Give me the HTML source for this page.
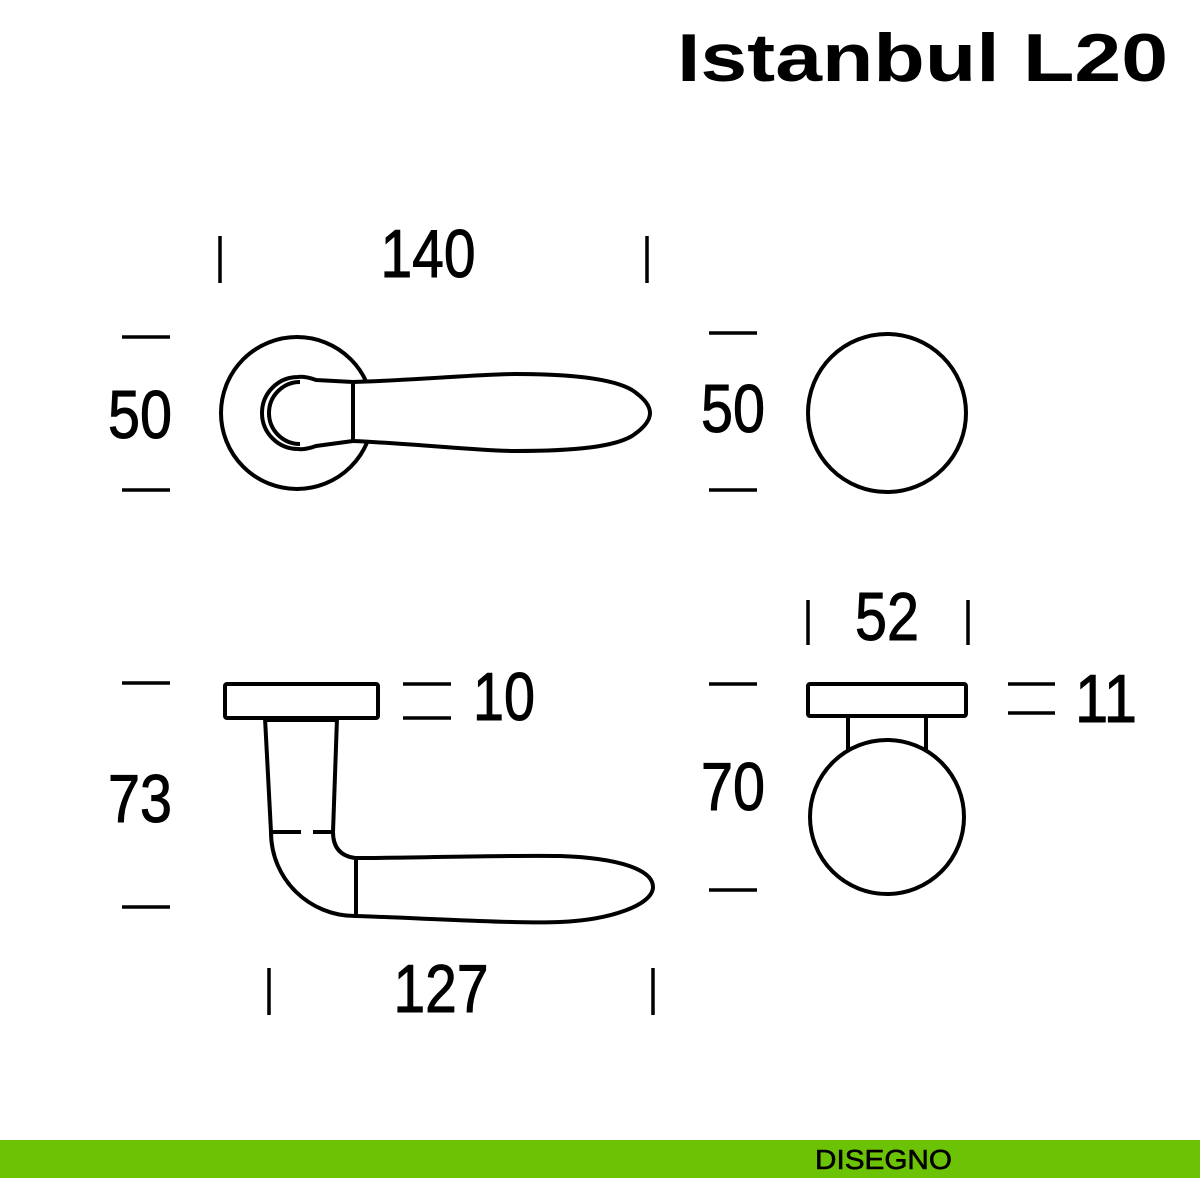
<!DOCTYPE html>
<html><head><meta charset="utf-8"><style>
html,body{margin:0;padding:0;background:#fff;width:1200px;height:1200px;overflow:hidden}
</style></head><body>
<svg width="1200" height="1200" viewBox="0 0 1200 1200" xmlns="http://www.w3.org/2000/svg">
<text x="677" y="81" font-family="Liberation Sans, sans-serif" font-weight="bold" font-size="68" textLength="491" lengthAdjust="spacingAndGlyphs" fill="#000">Istanbul L20</text>

<g stroke="#000" stroke-width="3.5" fill="none">
<line x1="220" y1="236" x2="220" y2="283"/><line x1="647" y1="236" x2="647" y2="283"/>
<line x1="122" y1="337" x2="170" y2="337"/><line x1="122" y1="490" x2="170" y2="490"/>
<line x1="709" y1="333" x2="757" y2="333"/><line x1="709" y1="490" x2="757" y2="490"/>
<line x1="122" y1="683" x2="170" y2="683"/><line x1="122" y1="907" x2="170" y2="907"/>
<line x1="403" y1="684" x2="451" y2="684"/><line x1="403" y1="718" x2="451" y2="718"/>
<line x1="709" y1="684" x2="757" y2="684"/><line x1="709" y1="890" x2="757" y2="890"/>
<line x1="808" y1="600" x2="808" y2="645"/><line x1="968" y1="600" x2="968" y2="645"/>
<line x1="1008" y1="684" x2="1055" y2="684"/><line x1="1008" y1="713" x2="1055" y2="713"/>
<line x1="269" y1="968" x2="269" y2="1015"/><line x1="653" y1="968" x2="653" y2="1015"/>
</g>

<g stroke="#000" stroke-width="4" fill="#fff" stroke-linejoin="round">
<circle cx="297" cy="413" r="76"/>
<path d="M353 382 C420 380 480 374 515 374 C580 374 615 380 632 390 Q650 402 650 413 Q650 424 632 436 C615 446 580 451 515 451 C480 451 420 444 353 441 Z"/>
<path d="M316 380 Q305 376 298 377 A36 36 0 0 0 298 449 Q305 450 316 446 L353 441 L353 382 Z"/>
<path d="M300 382 A31 31 0 0 0 300 444" stroke-width="4" fill="none"/>
<circle cx="887" cy="413" r="79"/>

<path d="M265 718 L271 832 C271 880 310 916 355 916 C420 918 520 924 560 922 C610 920 653 905 653 887 C653 870 620 858 560 856 C500 855 420 858 355 858 Q333 855 333 832 L337 718 Z"/>
<line x1="356" y1="858" x2="356" y2="916"/>
<line x1="271" y1="832" x2="333" y2="832" stroke-dasharray="30 12" fill="none"/>
<line x1="266" y1="719" x2="336" y2="719" stroke-width="6"/>
<rect x="225" y="684" width="153" height="34" rx="2"/>

<rect x="848" y="716" width="78" height="36"/>
<circle cx="887" cy="817" r="77"/>
<rect x="808" y="684" width="158" height="32" rx="2"/>
</g>

<g font-family="Liberation Sans Narrow, Liberation Sans, sans-serif" font-size="68" fill="#000" stroke="#000" stroke-width="1">
<text x="428" y="277" text-anchor="middle" textLength="95" lengthAdjust="spacingAndGlyphs">140</text>
<text x="140" y="438" text-anchor="middle" textLength="64" lengthAdjust="spacingAndGlyphs">50</text>
<text x="733" y="432" text-anchor="middle" textLength="64" lengthAdjust="spacingAndGlyphs">50</text>
<text x="140" y="822" text-anchor="middle" textLength="64" lengthAdjust="spacingAndGlyphs">73</text>
<text x="473" y="720" textLength="62" lengthAdjust="spacingAndGlyphs">10</text>
<text x="733" y="810" text-anchor="middle" textLength="64" lengthAdjust="spacingAndGlyphs">70</text>
<text x="887" y="640" text-anchor="middle" textLength="64" lengthAdjust="spacingAndGlyphs">52</text>
<text x="1075" y="722" textLength="62" lengthAdjust="spacingAndGlyphs">11</text>
<text x="441" y="1012" text-anchor="middle" textLength="95" lengthAdjust="spacingAndGlyphs">127</text>
</g>

<rect x="0" y="1140" width="1200" height="38" fill="#6cc204"/>
<text x="815" y="1169" font-family="Liberation Sans, sans-serif" font-size="28" textLength="137" lengthAdjust="spacingAndGlyphs" fill="#000" stroke="#000" stroke-width="0.6">DISEGNO</text>
</svg>
</body></html>
